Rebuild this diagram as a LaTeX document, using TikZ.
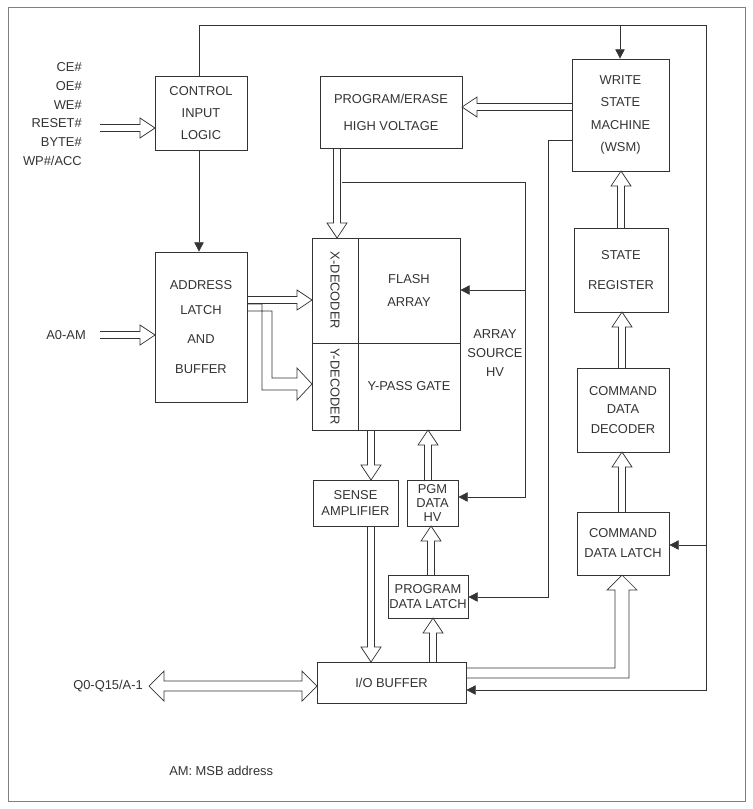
\documentclass[tikz,border=0pt]{standalone}
\usepackage{fontspec}
\setmainfont{Liberation Sans}
\usetikzlibrary{arrows.meta}
\newcommand\px{0.03cm}
% box from corner (x1,y1) to (x2,y2), in pixels
\newcommand\blk[6]{\node[box, minimum width={(#4-#2)*\px}, minimum height={(#5-#3)*\px}]
  (#1) at ({(#2+#4)/2},{(#3+#5)/2}) {#6};}
% hollow arrow: start, angle, length
\newcommand\harrow[3]{\draw[shift={#1},rotate=#2] (0,-3.5) -- (#3-15,-3.5) -- (#3-15,-10)
  -- (#3,0) -- (#3-15,10) -- (#3-15,3.5) -- (0,3.5);}
\tikzset{
  box/.style={draw, inner sep=0pt, align=center, font=\fontsize{11}{19}\selectfont},
  lbl/.style={font=\fontsize{11}{16}\selectfont},
  sig/.style={-{Triangle[length=8pt,width=8pt]}},
}
\begin{document}
\begin{tikzpicture}[x=0.03cm,y=-0.03cm,line width=0.6pt,color={black!80}]
\useasboundingbox (0,0) rectangle (752,809);
\draw[gray,line width=0.8pt] (8,7) rectangle (745,801);

\blk{ctl}{155}{76}{247}{150}{CONTROL\\INPUT\\LOGIC}
\blk{pe}{320}{76}{462}{148}{PROGRAM/ERASE\\[4pt]HIGH VOLTAGE}
\blk{wsm}{572}{59}{669}{171}{WRITE\\STATE\\MACHINE\\(WSM)}
\blk{addr}{155}{252}{247}{402}{ADDRESS\\[2pt]LATCH\\[6pt]AND\\[6pt]BUFFER}
\blk{xdec}{312}{238}{358}{343}{}
\blk{flash}{358}{238}{460}{343}{FLASH\\ARRAY}
\blk{ydec}{312}{343}{358}{430}{}
\blk{ypass}{358}{343}{460}{430}{Y-PASS GATE}
\node[lbl,rotate=-90] at (xdec.center) {X-DECODER};
\node[lbl,rotate=-90] at (ydec.center) {Y-DECODER};
\blk{sreg}{574}{228}{668}{312}{STATE\\[6pt]REGISTER}
\blk{cdd}{577}{368}{669}{452}{COMMAND\\[-4pt]DATA\\[-2pt]DECODER}
\blk{cdl}{577}{512}{669}{575}{COMMAND\\[-2pt]DATA LATCH}
\blk{sense}{313}{480}{398}{526}{SENSE\\[-6pt]AMPLIFIER}
\blk{pgm}{407}{480}{458}{526}{PGM\\[-7pt]DATA\\[-7pt]HV}
\blk{pdl}{388}{575}{468}{618}{PROGRAM\\[-6pt]DATA LATCH}
\blk{io}{317}{662}{466}{703}{I/O BUFFER}

\node[lbl,anchor=east,align=right] (pins) at (86,114)
  {CE\#\\OE\#\\WE\#\\RESET\#\\BYTE\#\\WP\#/ACC};
\node[lbl,anchor=east] (a0) at (90,335) {A0-AM};
\node[lbl,anchor=east] (q0) at (147,686) {Q0-Q15/A-1};
\node[lbl,align=center] (src) at (495,353) {ARRAY\\SOURCE\\HV};
\node[lbl,anchor=west] (note) at (165,771) {AM: MSB address};

% single line signals
\coordinate (tl) at (199,25);
\coordinate (tr) at (706,25);
\draw[sig] (ctl.north -| tl) -- (tl) -- (tr) -- (706,690) -- (io.east |- 0,690);
\draw[sig] (706,545) -- (cdl.east |- 0,545);
\draw[sig] (620,25) -- (wsm.north -| 620,0);
\draw[sig] (ctl.south -| tl) -- (addr.north -| tl);
\draw[sig] (342,182) -- (525,182) -- (525,497) -- (pgm.east |- 0,497);
\draw[sig] (525,290) -- (flash.east |- 0,290);
\draw[sig] (wsm.west |- 0,140) -- (548,140) -- (548,597) -- (pdl.east |- 0,597);

% hollow arrows
\harrow{(100,128)}{0}{55}
\harrow{(100,335)}{0}{55}
\harrow{(572,107)}{180}{110}
\harrow{(337,148)}{-90}{90}
\harrow{(247,300)}{0}{65}
\harrow{(371,430)}{-90}{50}
\harrow{(428,480)}{90}{50}
\harrow{(431,575)}{90}{49}
\harrow{(433,662)}{90}{44}
\harrow{(371,526)}{-90}{136}
\harrow{(622,512)}{90}{60}
\harrow{(622,368)}{90}{56}
\harrow{(621,228)}{90}{57}
\draw (247,304) -- (262,304) -- (262,390) -- (297,390) -- (297,400) -- (312,384)
  -- (297,368) -- (297,378) -- (272,378) -- (272,311) -- (247,311);
\draw (466,668) -- (615,668) -- (615,590) -- (607,590) -- (622,575) -- (637,590)
  -- (629,590) -- (629,678) -- (466,678);
\draw (149,686) -- (164,671) -- (164,681) -- (302,681) -- (302,671) -- (317,686)
  -- (302,701) -- (302,691) -- (164,691) -- (164,701) -- cycle;
\end{tikzpicture}
\end{document}
